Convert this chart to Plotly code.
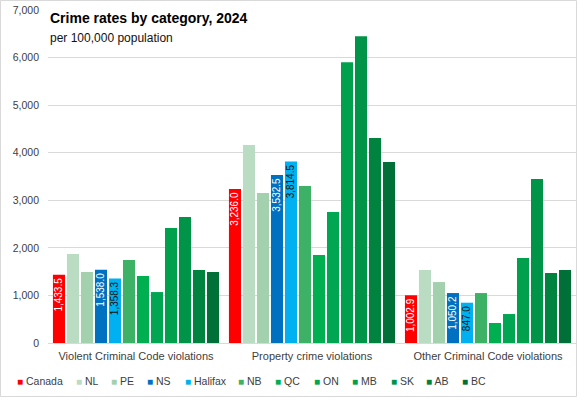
import plotly.graph_objects as go

categories = ["Violent Criminal Code violations", "Property crime violations", "Other Criminal Code violations"]
regions = ["Canada", "NL", "PE", "NS", "Halifax", "NB", "QC", "ON", "MB", "SK", "AB", "BC"]

canada = [1433.5, 3236.0, 1002.9]
nl = [1870, 4160, 1533]
pe = [1492, 3151, 1281]
ns = [1538.0, 3532.5, 1050.2]
halifax = [1358.3, 3814.5, 847.0]
nb = [1744, 3298, 1050]
qc = [1408, 1849, 420]
on = [1071, 2752, 609]
mb = [2416, 5903, 1786]
sk = [2647, 6450, 3445]
ab = [1534, 4307, 1470]
bc = [1492, 3803, 1533]

series = [canada, nl, pe, ns, halifax, nb, qc, on, mb, sk, ab, bc]
labelled = {"Canada", "NS", "Halifax"}

y_ticks = [0, 1000, 2000, 3000, 4000, 5000, 6000, 7000]

colors = ["#FF0000", "#B9DCC2", "#A3D0AD", "#0070C0", "#00B0F0", "#3DB166",
          "#00B050", "#00A651", "#00A04C", "#009448", "#00833E", "#007038"]
label_colors = {"Canada": "white", "NS": "white", "Halifax": "#111111"}
# legend entry pitch in px (style only)
legend_pitch = [59, 35, 36, 38, 53, 37, 39, 38, 39, 35, 36, 72]

FONT = "Liberation Sans"
W, H = 577, 397
ml, mr, mt, mb_ = 48, 1, 10, 54
pw, ph = W - ml - mr, H - mt - mb_
LEG_MAXW = ml + pw

fig = go.Figure()
for name, vals, col in zip(regions, series, colors):
    if name in labelled:
        kw = dict(texttemplate="%{y:,.1f}", textposition="inside", insidetextanchor="end",
                  textangle=-90, insidetextfont=dict(color=label_colors[name], size=10, family=FONT))
    else:
        kw = dict(textposition="none")
    fig.add_trace(go.Bar(name=name, x=categories, y=vals, marker=dict(color=col, line=dict(width=0)),
                         showlegend=False, **kw))

# legend entries: coloured square key placed right next to the label
for name, col, p in zip(regions, colors, legend_pitch):
    fig.add_trace(go.Scatter(name=f'<span style="color:{col};font-size:10px">■</span> {name}',
                             x=[None], y=[None], mode="markers",
                             marker=dict(symbol="square", size=1, color="rgba(0,0,0,0)"),
                             showlegend=True, legendwidth=p / LEG_MAXW, hoverinfo="skip"))

fig.update_layout(
    width=W, height=H,
    margin=dict(l=ml, r=mr, t=mt, b=mb_, autoexpand=False),
    paper_bgcolor="white", plot_bgcolor="white",
    barmode="group", bargap=0.045, bargroupgap=0.14,
    font=dict(family=FONT, size=11, color="#404040"),
    uniformtext=dict(minsize=10, mode="show"),
    showlegend=True,
    legend=dict(orientation="h", xref="paper", x=(-23 - ml) / pw, xanchor="left",
                yref="paper", y=-(381 - (H - mb_)) / ph, yanchor="middle",
                bgcolor="rgba(0,0,0,0)",
                entrywidthmode="fraction", entrywidth=0.07,
                font=dict(size=10.5, color="#404040", family=FONT),
                itemwidth=30, tracegroupgap=0, traceorder="normal"),
    xaxis=dict(showgrid=False, ticks="", showline=False, automargin=False, ticklabelstandoff=5,
               tickfont=dict(size=11, color="#404040")),
    yaxis=dict(range=[0, 7000], tickvals=y_ticks, tickformat=",", showgrid=True, gridcolor="#D9D9D9",
               gridwidth=1, zeroline=True, zerolinecolor="#D9D9D9", zerolinewidth=1, automargin=False,
               ticks="", showline=False, tickfont=dict(size=10.5, color="#404040"), ticklabelstandoff=8),
    shapes=[dict(type="rect", xref="paper", yref="paper",
                 x0=-ml / pw + 0.5 / pw, x1=1 + (mr - 0.5) / pw,
                 y0=-mb_ / ph + 0.5 / ph, y1=1 + (mt - 0.5) / ph,
                 line=dict(color="#D9D9D9", width=1), fillcolor="rgba(0,0,0,0)", layer="below")],
    annotations=[
        dict(text="<b>Crime rates by category, 2024</b>", xref="paper", yref="paper",
             x=0, y=(343 - 18) / ph, xanchor="left", yanchor="middle", showarrow=False,
             font=dict(size=14, color="#000000", family=FONT)),
        dict(text="per 100,000 population", xref="paper", yref="paper",
             x=0, y=(343 - 38) / ph, xanchor="left", yanchor="middle", showarrow=False,
             font=dict(size=12, color="#111111", family=FONT)),
    ],
)

fig.write_html("out.html", config={"displayModeBar": False},
               post_script="document.body.style.margin='0';document.body.style.padding='0';")
